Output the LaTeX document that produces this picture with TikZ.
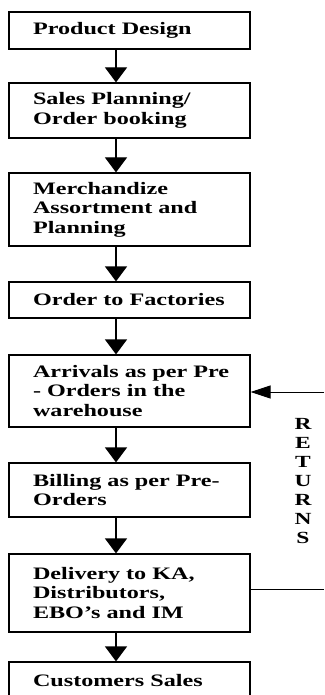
\documentclass[tikz,border=0pt]{standalone}
\usepackage{fontspec}
\newfontfamily\boxfont{Liberation Serif}[FakeStretch=1.38]
\usetikzlibrary{arrows.meta}
\begin{document}
\begin{tikzpicture}[x=1pt,y=-1pt,
  stepbox/.style={draw, line width=1.2pt, text width=193pt, inner xsep=24pt, inner ysep=0pt, align=flush left, font=\boxfont\bfseries\fontsize{17.5}{19.5}\selectfont},
  flow/.style={line width=1.2pt, -{Triangle[width=22pt,length=15pt]}},
  ret/.style={line width=1pt},
  retarrow/.style={line width=1pt, -{Triangle[width=13pt,length=20pt]}},
  retlabel/.style={anchor=north, inner sep=0pt, align=center, font=\boxfont\bfseries\fontsize{17}{19}\selectfont}]
\useasboundingbox (0,0) rectangle (324,695);
\clip (0,0) rectangle (324,695);
\node[stepbox, minimum height=37pt] (b1) at (129.5,30.5) {Product Design};
\node[stepbox, minimum height=55pt] (b2) at (129.5,110.5) {Sales Planning/\\Order booking};
\node[stepbox, minimum height=73pt] (b3) at (129.5,209.5) {Merchandize\\Assortment and\\Planning};
\node[stepbox, minimum height=36pt] (b4) at (129.5,300) {Order to Factories};
\node[stepbox, minimum height=72pt] (b5) at (129.5,391) {\mbox{Arrivals as per Pre}\\- Orders in the\\warehouse};
\node[stepbox, minimum height=54pt] (b6) at (129.5,490) {\mbox{Billing as per Pre-}\\Orders};
\node[stepbox, minimum height=78pt] (b7) at (129.5,593) {Delivery to KA,\\Distributors,\\EBO’s and IM};
\node[stepbox, minimum height=37pt] (b8) at (129.5,680.5) {Customers Sales};
\coordinate (ax) at (116,0);
\foreach \a/\b in {b1/b2,b2/b3,b3/b4,b4/b5,b5/b6,b6/b7,b7/b8}
  \draw[flow] (\a.south -| ax) -- (\b.north -| ax);
\coordinate (r1) at (324,392);
\coordinate (r2) at (324,589);
\draw[retarrow] (r1) -- (r1 -| b5.east);
\draw[ret] (r2 -| b7.east) -- (r2);
\node[retlabel] (rl) at (303,418) {R\\E\\T\\U\\R\\N\\S};
\end{tikzpicture}
\end{document}
